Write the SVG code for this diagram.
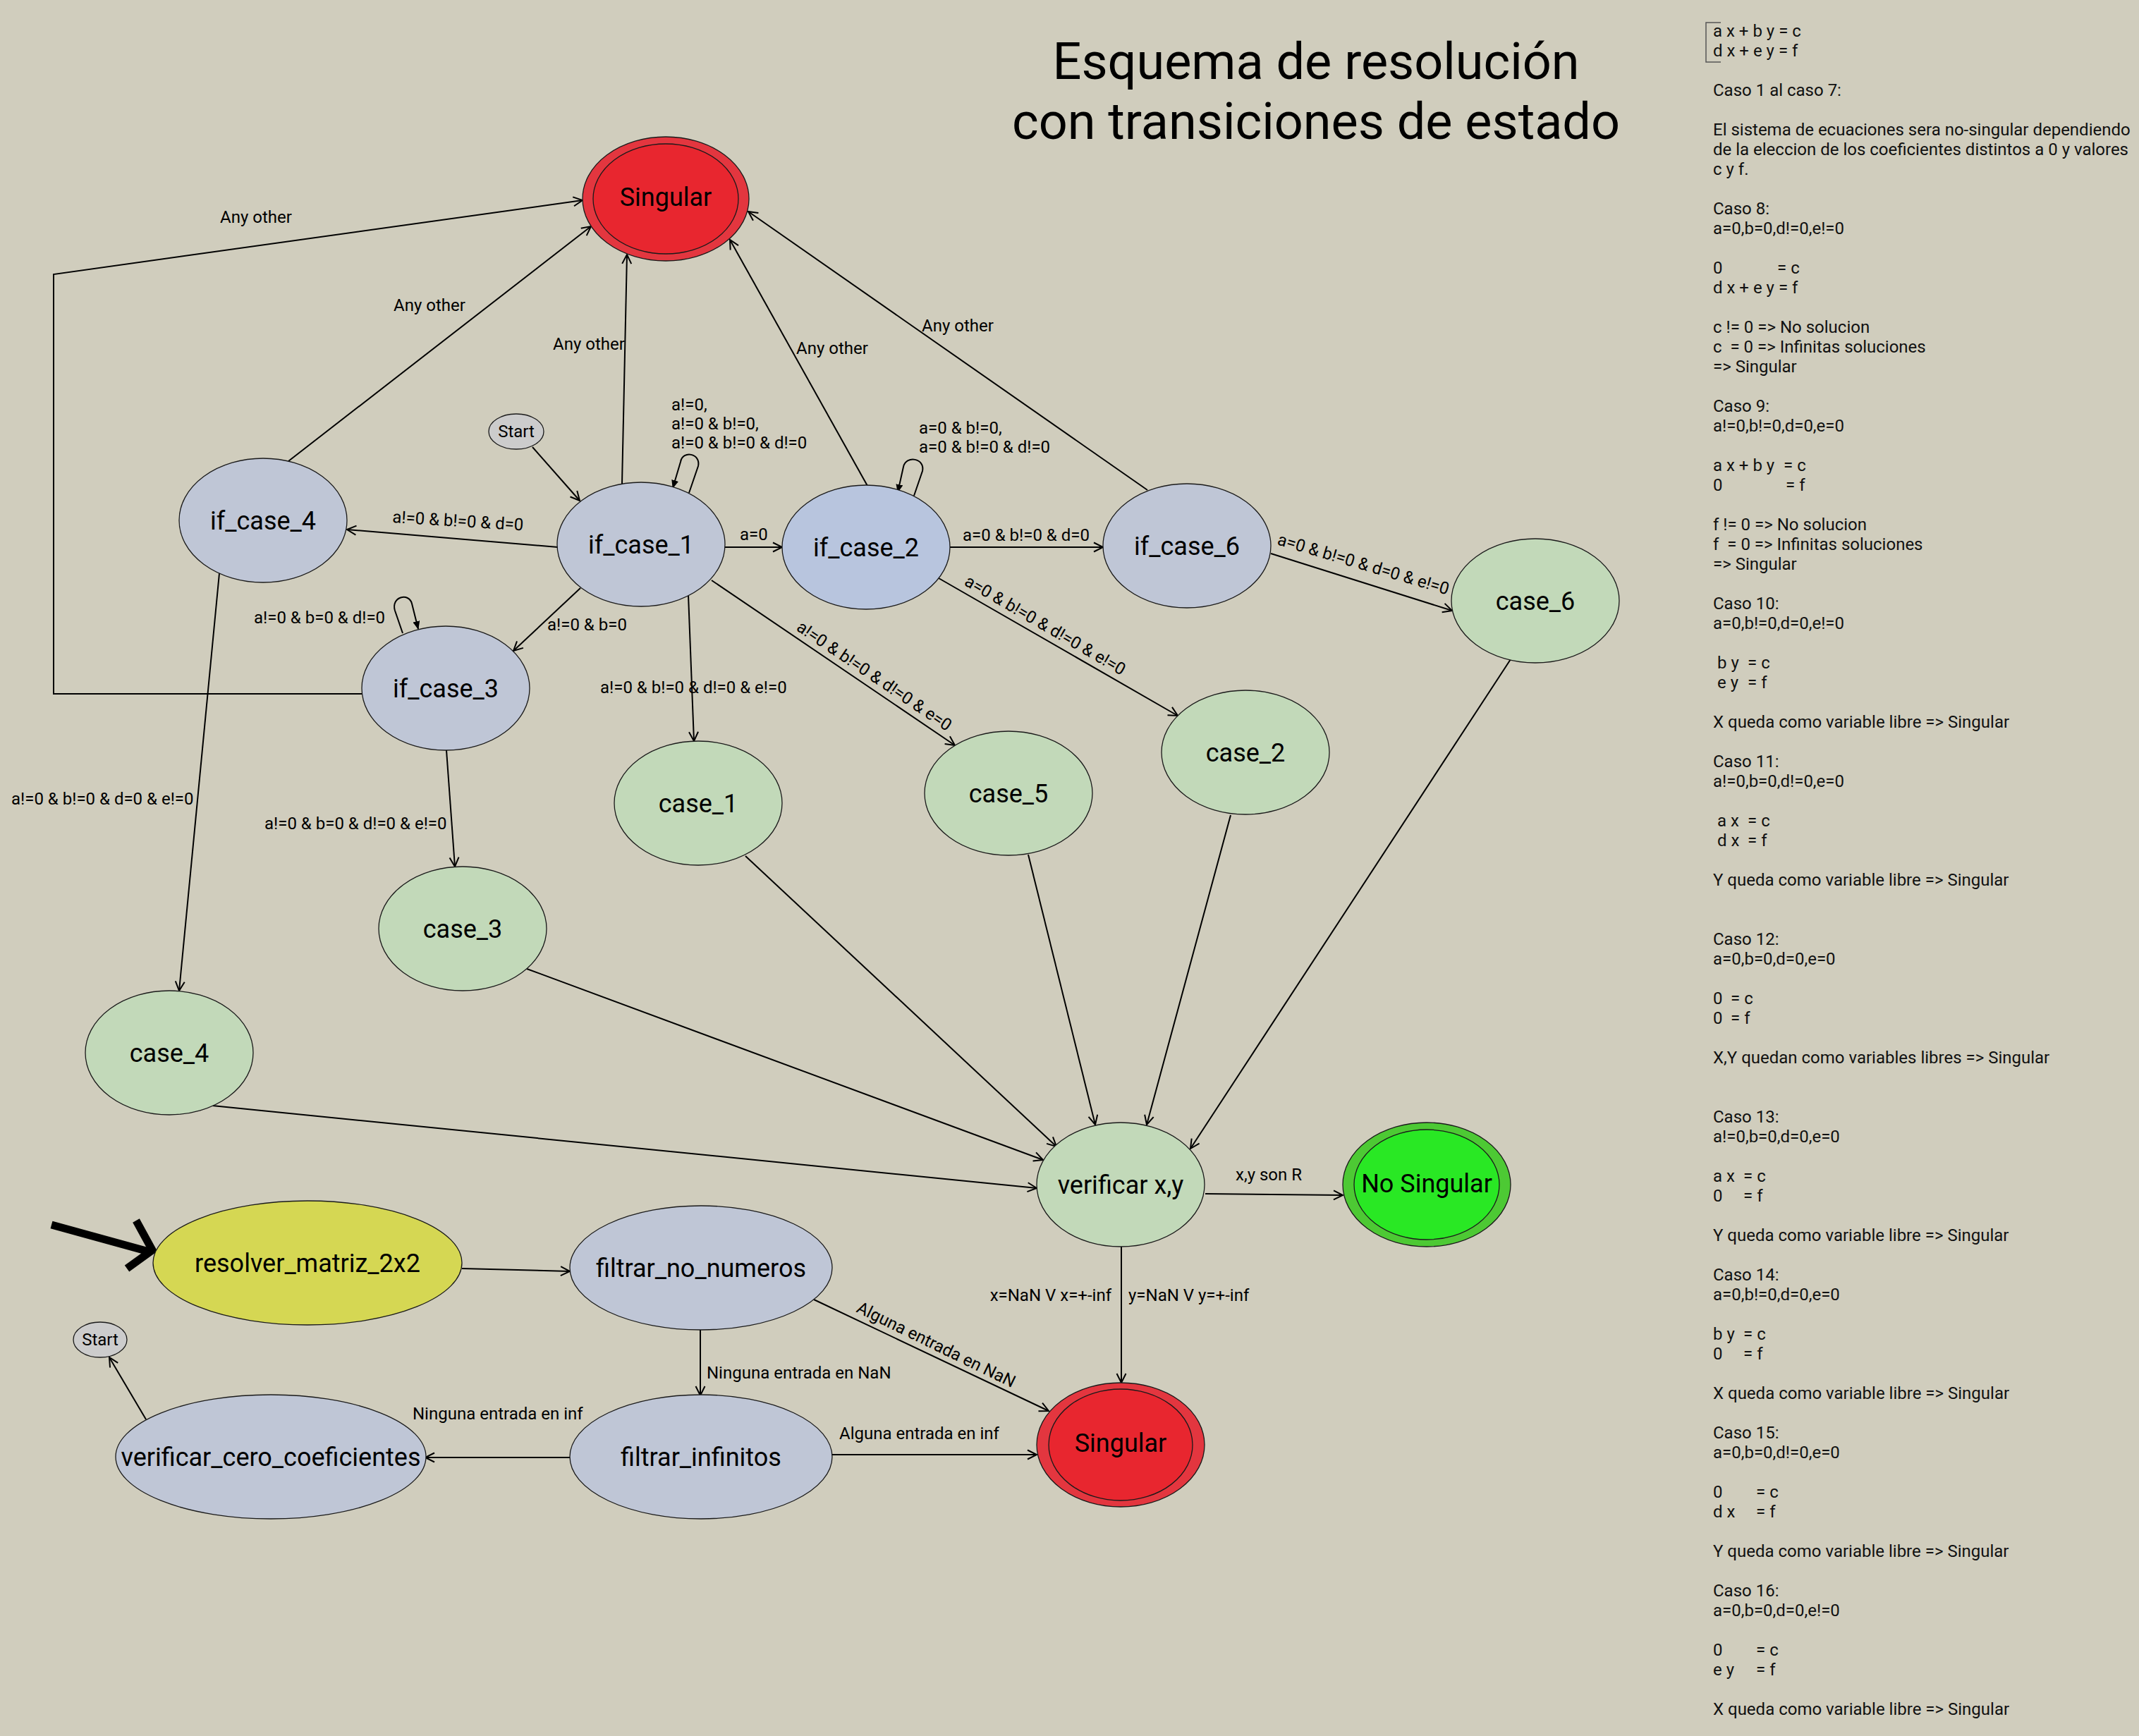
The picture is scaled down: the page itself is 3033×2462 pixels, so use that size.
<svg xmlns="http://www.w3.org/2000/svg" width="3033" height="2462" viewBox="0 0 3033 2462">
<style>
.n{stroke:#1a1a1a;stroke-width:1.3}
.blue{fill:#BFC6D6}
.blue2{fill:#B8C5DE}
.green{fill:#C2D9B9}
.nt{font-family:Roboto,"Liberation Sans",sans-serif;font-size:36px;fill:#000;text-anchor:middle}
.st{font-family:Roboto,"Liberation Sans",sans-serif;font-size:24px;fill:#000;text-anchor:middle}
.e{fill:none;stroke:#000;stroke-width:2;marker-end:url(#arr)}
.el{fill:none;stroke:#000;stroke-width:2;marker-end:url(#arrf)}
.lb{font-family:Roboto,"Liberation Sans",sans-serif;font-size:24px;fill:#000}
.pn{font-family:Roboto,"Liberation Sans",sans-serif;font-size:24px;fill:#111}
.title{font-family:Roboto,"Liberation Sans",sans-serif;font-size:72px;fill:#000;text-anchor:middle}
</style>
<defs>
<marker id="arr" viewBox="-2 -2 18 18" refX="14" refY="7" markerWidth="18" markerHeight="18" markerUnits="userSpaceOnUse" orient="auto" overflow="visible"><path d="M1,0.5 L14,7 L1,13.5" fill="none" stroke="#000" stroke-width="2"/></marker>
<marker id="arrf" viewBox="0 0 12 10" refX="11" refY="5" markerWidth="12" markerHeight="10" markerUnits="userSpaceOnUse" orient="auto"><path d="M0,0 L12,5 L0,10 z" fill="#000"/></marker>
</defs>
<rect x="0" y="0" width="3033" height="2462" fill="#D0CDBD"/>

<g id="title">
<text class="title" x="1866" y="112">Esquema de resolución</text>
<text class="title" x="1866" y="197">con transiciones de estado</text>
</g>

<g id="connectors">
<path class="e" d="M755,634 L822,710"/>
<path class="e" d="M882,686 L889,361"/>
<path class="e" d="M409,654 L838,321"/>
<path class="e" d="M513,984 L76,984 L76,389 L826,284"/>
<path class="e" d="M1230,689 L1035,340"/>
<path class="e" d="M1627,695 L1061,300"/>
<path class="e" d="M791,776 L492,751"/>
<path class="e" d="M1028,776 L1109,776"/>
<path class="e" d="M1346,776 L1564,776"/>
<path class="e" d="M1802,785 L2059,866"/>
<path class="e" d="M823,834 L728,923"/>
<path class="e" d="M976,844 L984,1051"/>
<path class="e" d="M1009,823 L1354,1057"/>
<path class="e" d="M1331,820 L1670,1015"/>
<path class="e" d="M311,813 L254,1405"/>
<path class="e" d="M633,1064 L645,1229"/>
<path class="e" d="M1057,1214 L1498,1626"/>
<path class="e" d="M1458,1212 L1553,1595"/>
<path class="e" d="M1745,1156 L1626,1595"/>
<path class="e" d="M2142,935 L1688,1629"/>
<path class="e" d="M747,1374 L1479,1645"/>
<path class="e" d="M301,1568 L1470,1685"/>
<path class="e" d="M1709,1693 L1904,1695"/>
<path class="e" d="M1590,1768 L1590,1961"/>
<path class="e" d="M655,1799 L808,1803"/>
<path class="e" d="M993,1886 L993,1979"/>
<path class="e" d="M1154,1843 L1487,2001"/>
<path class="e" d="M1179,2063 L1470,2063"/>
<path class="e" d="M808,2067 L603,2067"/>
<path class="e" d="M207,2013 L155,1925"/>
<path class="el" d="M977,699 L990,661 C994,643 968,638 965,655 L954,692"/>
<path class="el" d="M1296,703 L1308,668 C1312,650 1285,645 1281,662 L1273,698"/>
<path class="el" d="M571,898 L560,866 C554,846 580,840 584,856 L593,892"/>
<polyline points="73,1737 211,1775" fill="none" stroke="#000" stroke-width="11"/>
<polyline points="193,1731 216,1773 180,1799" fill="none" stroke="#000" stroke-width="11" stroke-linejoin="miter"/>

<text class="lb" x="312" y="316">Any other</text>
<text class="lb" x="558" y="441">Any other</text>
<text class="lb" x="784" y="496">Any other</text>
<text class="lb" x="1129" y="502">Any other</text>
<text class="lb" x="1307" y="470">Any other</text>
<text class="lb" x="952" y="582">a!=0,</text>
<text class="lb" x="952" y="609">a!=0 &amp; b!=0,</text>
<text class="lb" x="952" y="636">a!=0 &amp; b!=0 &amp; d!=0</text>
<text class="lb" x="1303" y="615">a=0 &amp; b!=0,</text>
<text class="lb" x="1303" y="642">a=0 &amp; b!=0 &amp; d!=0</text>
<text class="lb" x="556" y="741" transform="rotate(3.5 556 741)">a!=0 &amp; b!=0 &amp; d=0</text>
<text class="lb" x="1049" y="766">a=0</text>
<text class="lb" x="1365" y="767">a=0 &amp; b!=0 &amp; d=0</text>
<text class="lb" x="1810" y="772" transform="rotate(16.5 1810 772)">a=0 &amp; b!=0 &amp; d=0 &amp; e!=0</text>
<text class="lb" x="776" y="894">a!=0 &amp; b=0</text>
<text class="lb" x="360" y="884">a!=0 &amp; b=0 &amp; d!=0</text>
<text class="lb" x="851" y="983">a!=0 &amp; b!=0 &amp; d!=0 &amp; e!=0</text>
<text class="lb" x="1128" y="893" transform="rotate(34 1128 893)">a!=0 &amp; b!=0 &amp; d!=0 &amp; e=0</text>
<text class="lb" x="1366" y="829" transform="rotate(30 1366 829)">a=0 &amp; b!=0 &amp; d!=0 &amp; e!=0</text>
<text class="lb" x="16" y="1141">a!=0 &amp; b!=0 &amp; d=0 &amp; e!=0</text>
<text class="lb" x="375" y="1176">a!=0 &amp; b=0 &amp; d!=0 &amp; e!=0</text>
<text class="lb" x="1752" y="1674">x,y son R</text>
<text class="lb" x="1576" y="1845" text-anchor="end">x=NaN V x=+-inf</text>
<text class="lb" x="1600" y="1845">y=NaN V y=+-inf</text>
<text class="lb" x="1213" y="1860" transform="rotate(26 1213 1860)">Alguna entrada en NaN</text>
<text class="lb" x="1002" y="1955">Ninguna entrada en NaN</text>
<text class="lb" x="585" y="2013">Ninguna entrada en inf</text>
<text class="lb" x="1190" y="2041">Alguna entrada en inf</text>
</g>

<g id="singular_top">
<ellipse class="n" cx="944" cy="282" rx="118" ry="88" fill="#E3363F"/>
<ellipse class="n" cx="944" cy="282" rx="103" ry="78" fill="#E8262F"/>
<text class="nt" x="944" y="292">Singular</text>
</g>
<g id="start_top">
<ellipse class="n" cx="732" cy="612" rx="39" ry="25" fill="#CCCCCC"/>
<text class="st" x="732" y="620">Start</text>
</g>
<g id="if_case_4">
<ellipse class="n blue" cx="373" cy="738" rx="119" ry="88"/>
<text class="nt" x="373" y="751">if_case_4</text>
</g>
<g id="if_case_1">
<ellipse class="n blue" cx="909" cy="772" rx="119" ry="88"/>
<text class="nt" x="909" y="785">if_case_1</text>
</g>
<g id="if_case_2">
<ellipse class="n blue2" cx="1228" cy="776" rx="119" ry="88"/>
<text class="nt" x="1228" y="789">if_case_2</text>
</g>
<g id="if_case_6">
<ellipse class="n blue" cx="1683" cy="774" rx="119" ry="88"/>
<text class="nt" x="1683" y="787">if_case_6</text>
</g>
<g id="if_case_3">
<ellipse class="n blue" cx="632" cy="976" rx="119" ry="88"/>
<text class="nt" x="632" y="989">if_case_3</text>
</g>
<g id="case_6">
<ellipse class="n green" cx="2177" cy="852" rx="119" ry="88"/>
<text class="nt" x="2177" y="865">case_6</text>
</g>
<g id="case_2">
<ellipse class="n green" cx="1766" cy="1067" rx="119" ry="88"/>
<text class="nt" x="1766" y="1080">case_2</text>
</g>
<g id="case_5">
<ellipse class="n green" cx="1430" cy="1125" rx="119" ry="88"/>
<text class="nt" x="1430" y="1138">case_5</text>
</g>
<g id="case_1">
<ellipse class="n green" cx="990" cy="1139" rx="119" ry="88"/>
<text class="nt" x="990" y="1152">case_1</text>
</g>
<g id="case_3">
<ellipse class="n green" cx="656" cy="1317" rx="119" ry="88"/>
<text class="nt" x="656" y="1330">case_3</text>
</g>
<g id="case_4">
<ellipse class="n green" cx="240" cy="1493" rx="119" ry="88"/>
<text class="nt" x="240" y="1506">case_4</text>
</g>
<g id="verificar_xy">
<ellipse class="n green" cx="1589" cy="1680" rx="119" ry="88"/>
<text class="nt" x="1589" y="1693">verificar x,y</text>
</g>
<g id="no_singular">
<ellipse class="n" cx="2023" cy="1680" rx="119" ry="88" fill="#4DC934"/>
<ellipse class="n" cx="2023" cy="1680" rx="103" ry="78" fill="#29E824"/>
<text class="nt" x="2023" y="1691">No Singular</text>
</g>
<g id="singular_bottom">
<ellipse class="n" cx="1589" cy="2049" rx="119" ry="88" fill="#E3363F"/>
<ellipse class="n" cx="1589" cy="2049" rx="102" ry="79" fill="#E8262F"/>
<text class="nt" x="1589" y="2059">Singular</text>
</g>
<g id="resolver_matriz_2x2">
<ellipse class="n" cx="436" cy="1791" rx="219" ry="88" fill="#D5D753"/>
<text class="nt" x="436" y="1804">resolver_matriz_2x2</text>
</g>
<g id="filtrar_no_numeros">
<ellipse class="n blue" cx="994" cy="1798" rx="186" ry="88"/>
<text class="nt" x="994" y="1811">filtrar_no_numeros</text>
</g>
<g id="filtrar_infinitos">
<ellipse class="n blue" cx="994" cy="2066" rx="186" ry="88"/>
<text class="nt" x="994" y="2079">filtrar_infinitos</text>
</g>
<g id="verificar_cero_coeficientes">
<ellipse class="n blue" cx="384" cy="2066" rx="220" ry="88"/>
<text class="nt" x="384" y="2079">verificar_cero_coeficientes</text>
</g>
<g id="start_bottom">
<ellipse class="n" cx="142" cy="1900" rx="38" ry="25" fill="#CCCCCC"/>
<text class="st" x="142" y="1908">Start</text>
</g>

<g id="notes">
<path d="M2440,32 L2419,32 L2419,88 L2440,88" fill="none" stroke="#555" stroke-width="1.5"/>
<text class="pn" xml:space="preserve">
<tspan x="2429" y="52">a x + b y = c</tspan>
<tspan x="2429" y="80">d x + e y = f</tspan>
<tspan x="2429" y="136">Caso 1 al caso 7:</tspan>
<tspan x="2429" y="192">El sistema de ecuaciones sera no-singular dependiendo</tspan>
<tspan x="2429" y="220">de la eleccion de los coeficientes distintos a 0 y valores</tspan>
<tspan x="2429" y="248">c y f.</tspan>
<tspan x="2429" y="304">Caso 8:</tspan>
<tspan x="2429" y="332">a=0,b=0,d!=0,e!=0</tspan>
<tspan x="2429" y="388">0</tspan><tspan x="2520" y="388">= c</tspan>
<tspan x="2429" y="416">d x + e y = f</tspan>
<tspan x="2429" y="472">c != 0 =&gt; No solucion</tspan>
<tspan x="2429" y="500">c  = 0 =&gt; Infinitas soluciones</tspan>
<tspan x="2429" y="528">=&gt; Singular</tspan>
<tspan x="2429" y="584">Caso 9:</tspan>
<tspan x="2429" y="612">a!=0,b!=0,d=0,e=0</tspan>
<tspan x="2429" y="668">a x + b y</tspan><tspan x="2529" y="668">= c</tspan>
<tspan x="2429" y="696">0</tspan><tspan x="2532" y="696">= f</tspan>
<tspan x="2429" y="752">f != 0 =&gt; No solucion</tspan>
<tspan x="2429" y="780">f  = 0 =&gt; Infinitas soluciones</tspan>
<tspan x="2429" y="808">=&gt; Singular</tspan>
<tspan x="2429" y="864">Caso 10:</tspan>
<tspan x="2429" y="892">a=0,b!=0,d=0,e!=0</tspan>
<tspan x="2435" y="948">b y</tspan><tspan x="2478" y="948">= c</tspan>
<tspan x="2435" y="976">e y</tspan><tspan x="2478" y="976">= f</tspan>
<tspan x="2429" y="1032">X queda como variable libre =&gt; Singular</tspan>
<tspan x="2429" y="1088">Caso 11:</tspan>
<tspan x="2429" y="1116">a!=0,b=0,d!=0,e=0</tspan>
<tspan x="2435" y="1172">a x</tspan><tspan x="2478" y="1172">= c</tspan>
<tspan x="2435" y="1200">d x</tspan><tspan x="2478" y="1200">= f</tspan>
<tspan x="2429" y="1256">Y queda como variable libre =&gt; Singular</tspan>
<tspan x="2429" y="1340">Caso 12:</tspan>
<tspan x="2429" y="1368">a=0,b=0,d=0,e=0</tspan>
<tspan x="2429" y="1424">0</tspan><tspan x="2454" y="1424">= c</tspan>
<tspan x="2429" y="1452">0</tspan><tspan x="2454" y="1452">= f</tspan>
<tspan x="2429" y="1508">X,Y quedan como variables libres =&gt; Singular</tspan>
<tspan x="2429" y="1592">Caso 13:</tspan>
<tspan x="2429" y="1620">a!=0,b=0,d=0,e=0</tspan>
<tspan x="2429" y="1676">a x</tspan><tspan x="2472" y="1676">= c</tspan>
<tspan x="2429" y="1704">0</tspan><tspan x="2472" y="1704">= f</tspan>
<tspan x="2429" y="1760">Y queda como variable libre =&gt; Singular</tspan>
<tspan x="2429" y="1816">Caso 14:</tspan>
<tspan x="2429" y="1844">a=0,b!=0,d=0,e=0</tspan>
<tspan x="2429" y="1900">b y</tspan><tspan x="2472" y="1900">= c</tspan>
<tspan x="2429" y="1928">0</tspan><tspan x="2472" y="1928">= f</tspan>
<tspan x="2429" y="1984">X queda como variable libre =&gt; Singular</tspan>
<tspan x="2429" y="2040">Caso 15:</tspan>
<tspan x="2429" y="2068">a=0,b=0,d!=0,e=0</tspan>
<tspan x="2429" y="2124">0</tspan><tspan x="2490" y="2124">= c</tspan>
<tspan x="2429" y="2152">d x</tspan><tspan x="2490" y="2152">= f</tspan>
<tspan x="2429" y="2208">Y queda como variable libre =&gt; Singular</tspan>
<tspan x="2429" y="2264">Caso 16:</tspan>
<tspan x="2429" y="2292">a=0,b=0,d=0,e!=0</tspan>
<tspan x="2429" y="2348">0</tspan><tspan x="2490" y="2348">= c</tspan>
<tspan x="2429" y="2376">e y</tspan><tspan x="2490" y="2376">= f</tspan>
<tspan x="2429" y="2432">X queda como variable libre =&gt; Singular</tspan>
</text>
</g>
</svg>
